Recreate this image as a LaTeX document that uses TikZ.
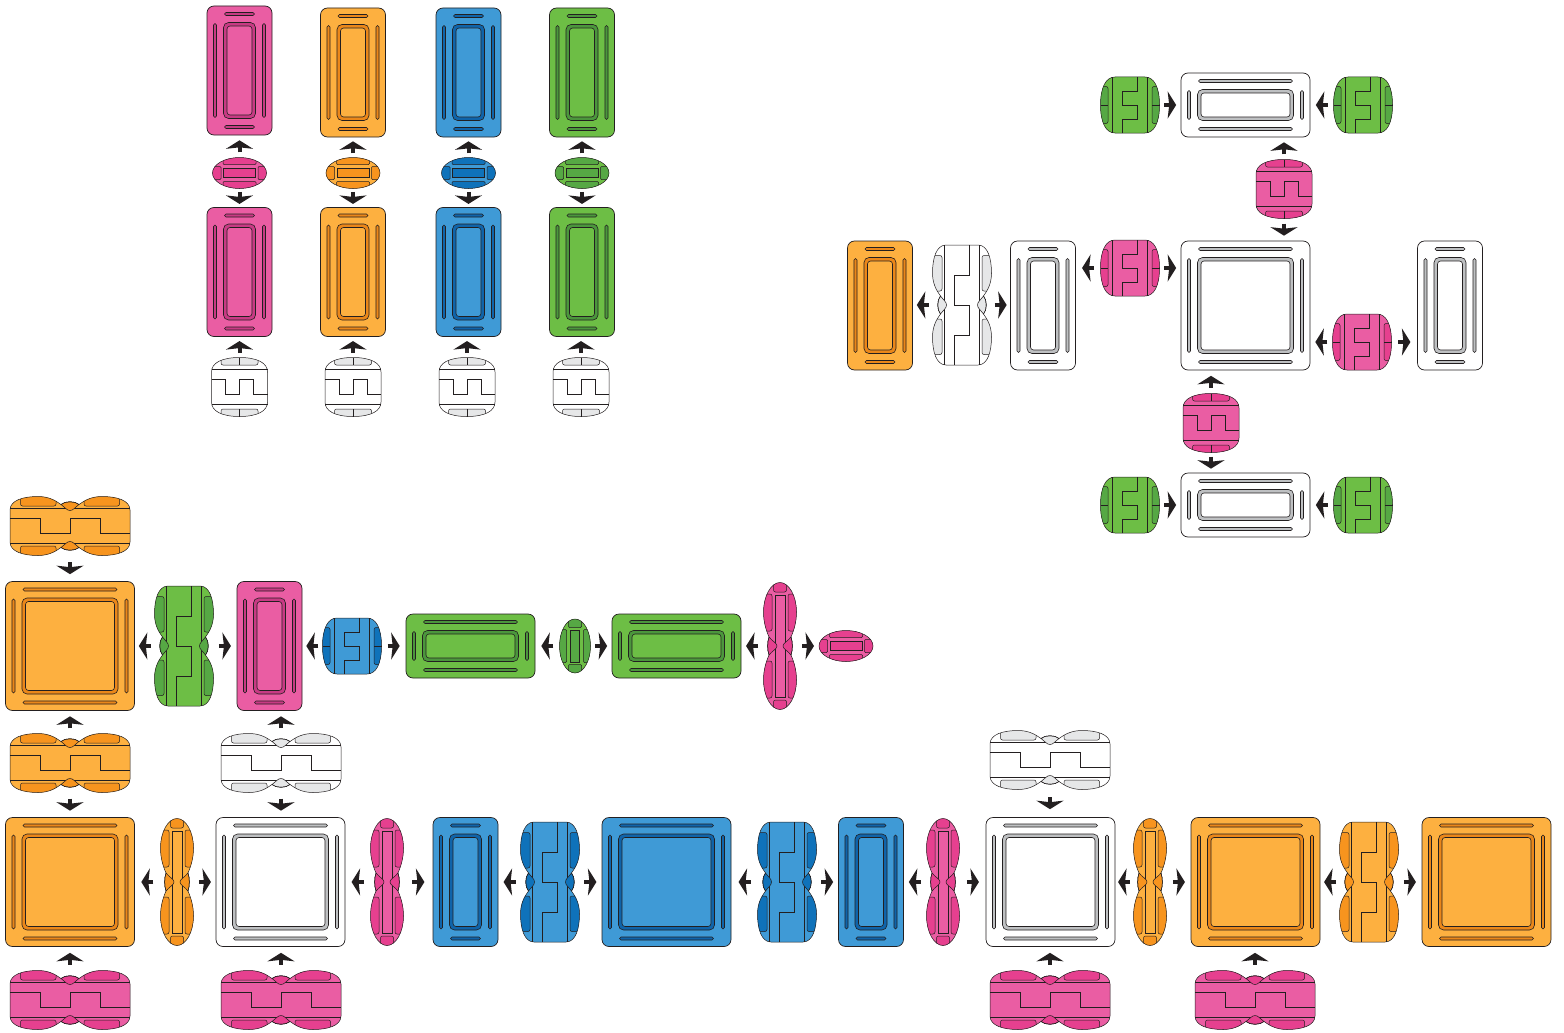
\documentclass[tikz,border=0pt]{standalone}
\usepackage{tikz}
\usetikzlibrary{arrows.meta,calc}
\definecolor{inkline}{RGB}{35,31,32}
\definecolor{pinkbase}{RGB}{234,93,163}
\definecolor{pinkdark}{RGB}{230,64,143}
\definecolor{pinkslot}{RGB}{200,58,132}
\definecolor{orangebase}{RGB}{253,176,64}
\definecolor{orangedark}{RGB}{247,148,30}
\definecolor{orangeslot}{RGB}{235,135,25}
\definecolor{bluebase}{RGB}{63,154,214}
\definecolor{bluedark}{RGB}{15,114,186}
\definecolor{blueslot}{RGB}{15,100,170}
\definecolor{greenbase}{RGB}{109,190,69}
\definecolor{greendark}{RGB}{86,168,68}
\definecolor{greenslot}{RGB}{75,150,60}
\definecolor{whitebase}{RGB}{255,255,255}
\definecolor{whitedark}{RGB}{230,231,232}
\definecolor{whiteslot}{RGB}{190,192,194}
\tikzset{
  plate/.style={draw=inkline, line width=0.7pt, rounded corners=7pt, inner sep=0pt},
  piecebox/.style={inner sep=0pt, draw=none},
  part/.style={draw=inkline, line width=0.5pt},
  ring/.style={draw=inkline, line width=0.6pt},
  arr/.style={line width=4pt, draw=inkline, -{Stealth[length=8.5pt,width=27pt,inset=1.5pt]},
    to path={($(\tikztostart)!.5!(\tikztotarget)!6pt!(\tikztostart)$) -- ($(\tikztostart)!.5!(\tikztotarget)!6pt!(\tikztotarget)$)}}}
\def\drumpath{(-28,-15) .. controls (-28,-24) and (-18,-29.5) .. (0,-29.5) .. controls (18,-29.5) and (28,-24) .. (28,-15) -- (28,15) .. controls (28,24) and (18,29.5) .. (0,29.5) .. controls (-18,29.5) and (-28,24) .. (-28,15) -- cycle}
\def\peanutpath{(-60,-16) .. controls (-60,-26) and (-46,-29.5) .. (-32,-29.5) .. controls (-22,-29.5) and (-15,-26) .. (-9,-21.5) .. controls (-5,-25.2) and (5,-25.2) .. (9,-21.5) .. controls (15,-26) and (22,-29.5) .. (32,-29.5) .. controls (46,-29.5) and (60,-26) .. (60,-16) -- (60,16) .. controls (60,26) and (46,29.5) .. (32,29.5) .. controls (22,29.5) and (15,26) .. (9,21.5) .. controls (5,25.2) and (-5,25.2) .. (-9,21.5) .. controls (-15,26) and (-22,29.5) .. (-32,29.5) .. controls (-46,29.5) and (-60,26) .. (-60,16) -- cycle}
\def\slimpath{(0,-63.5) .. controls (9,-63.5) and (16.5,-50) .. (16.5,-34) .. controls (16.5,-24) and (14,-16) .. (11,-9) .. controls (12.8,-4) and (12.8,4) .. (11,9) .. controls (14,16) and (16.5,24) .. (16.5,34) .. controls (16.5,50) and (9,63.5) .. (0,63.5) .. controls (-9,63.5) and (-16.5,50) .. (-16.5,34) .. controls (-16.5,24) and (-14,16) .. (-11,9) .. controls (-12.8,4) and (-12.8,-4) .. (-11,-9) .. controls (-14,-16) and (-16.5,-24) .. (-16.5,-34) .. controls (-16.5,-50) and (-9,-63.5) .. (0,-63.5) -- cycle}
\newcommand{\platetile}[6]{%
  \node[plate, minimum width=#4pt, minimum height=#5pt, fill=#6base] (#1) at (#2,#3) {};
  \begin{scope}[shift={(#2,#3)}]
    \pgfmathsetmacro\hw{#4/2}\pgfmathsetmacro\hh{#5/2}
    \draw[ring, fill=#6slot, rounded corners=1.5pt] (-\hw+17.5,-\hh+6.5) rectangle (\hw-17.5,-\hh+9.5);
    \draw[ring, fill=#6slot, rounded corners=1.5pt] (-\hw+17.5,\hh-9.5) rectangle (\hw-17.5,\hh-6.5);
    \draw[ring, fill=#6slot, rounded corners=1.5pt] (-\hw+6.5,-\hh+17.5) rectangle (-\hw+9.5,\hh-17.5);
    \draw[ring, fill=#6slot, rounded corners=1.5pt] (\hw-9.5,-\hh+17.5) rectangle (\hw-6.5,\hh-17.5);
    \draw[ring, fill=#6slot, rounded corners=5pt] (-\hw+16.5,-\hh+16.5) rectangle (\hw-16.5,\hh-16.5);
    \draw[ring, fill=#6base, rounded corners=3pt] (-\hw+20,-\hh+20) rectangle (\hw-20,\hh-20);
  \end{scope}}
\newcommand{\drumpiece}[5]{%
  \node[piecebox, minimum width={58*abs(cos(#5))+59*abs(sin(#5))}, minimum height={59*abs(cos(#5))+58*abs(sin(#5))}] (#1) at (#2,#3) {};
  \begin{scope}[shift={(#2,#3)}, rotate=#5]
    \fill[#4base] \drumpath;
    \begin{scope}
      \clip \drumpath;
      \draw[part, fill=#4dark, rounded corners=2pt] (-18.5,-33) rectangle (18.5,-22);
      \draw[part, fill=#4dark, rounded corners=2pt] (-18.5,22) rectangle (18.5,33);
    \end{scope}
    \draw[part] (0,-29.5) -- (0,-22) (0,22) -- (0,29.5);
    \draw[part] (-28,-17.5) -- (28,-17.5) (-28,17.5) -- (28,17.5);
    \draw[part] (-28,-7.5) -- (-14,-7.5) -- (-14,7.5) -- (0,7.5) -- (0,-7.5) -- (14,-7.5) -- (14,7.5) -- (28,7.5);
    \draw[part] \drumpath;
  \end{scope}}
\newcommand{\peanutpiece}[5]{%
  \node[piecebox, minimum width={120*abs(cos(#5))+58*abs(sin(#5))}, minimum height={58*abs(cos(#5))+120*abs(sin(#5))}] (#1) at (#2,#3) {};
  \begin{scope}[shift={(#2,#3)}, rotate=#5]
    \fill[#4base] \peanutpath;
    \begin{scope}
      \clip \peanutpath;
      \foreach \sx/\sy in {1/1,1/-1,-1/1,-1/-1}
        \draw[part, fill=#4dark, rounded corners=2pt, xscale=\sx, yscale=\sy] (14,-34) rectangle (49.5,-20);
    \end{scope}
    \draw[part] (-60,-17.3) -- (60,-17.3) (-60,17.3) -- (60,17.3);
    \foreach \sy in {1,-1}
      \draw[part, fill=#4dark, yscale=\sy] (-9,-21.5) .. controls (-5,-25.2) and (5,-25.2) .. (9,-21.5) .. controls (5,-18.5) and (3,-15.5) .. (0,-15.5) .. controls (-3,-15.5) and (-5,-18.5) .. (-9,-21.5) -- cycle;
    \draw[part] (-60,-7.5) -- (-30,-7.5) -- (-30,7.5) -- (0,7.5) -- (0,-7.5) -- (30,-7.5) -- (30,7.5) -- (60,7.5);
    \draw[part] \peanutpath;
  \end{scope}}
\newcommand{\slimpiece}[4]{%
  \node[piecebox, minimum width=34pt, minimum height=127pt] (#1) at (#2,#3) {};
  \begin{scope}[shift={(#2,#3)}]
    \fill[#4base] \slimpath;
    \begin{scope}
      \clip \slimpath;
      \foreach \sx/\sy in {1/1,1/-1,-1/1,-1/-1}
        \draw[part, fill=#4dark, rounded corners=2pt, xscale=\sx, yscale=\sy] (8,-52) rectangle (20,-15);
      \draw[part, fill=#4dark, rounded corners=2pt] (-6.5,-67) rectangle (6.5,-54);
      \draw[part, fill=#4dark, rounded corners=2pt] (-6.5,54) rectangle (6.5,67);
    \end{scope}
    \draw[part, fill=#4base] (-5,-51) rectangle (5,51);
    \foreach \sx in {1,-1}
      \draw[part, fill=#4dark, xscale=\sx] (11,-9) .. controls (12.8,-4) and (12.8,4) .. (11,9) .. controls (8,5) and (3,3) .. (3,0) .. controls (3,-3) and (8,-5) .. (11,-9) -- cycle;
    \draw[part] \slimpath;
  \end{scope}}
\newcommand{\ovalpiece}[5]{%
  \node[piecebox, minimum width={54*abs(cos(#5))+31*abs(sin(#5))}, minimum height={31*abs(cos(#5))+54*abs(sin(#5))}] (#1) at (#2,#3) {};
  \begin{scope}[shift={(#2,#3)}, rotate=#5]
    \fill[#4base] (0,0) ellipse (27 and 15.5);
    \begin{scope}
      \clip (0,0) ellipse (27 and 15.5);
      \draw[part, fill=#4dark, rounded corners=1pt] (-16.5,-18) rectangle (16.5,-8.5);
      \draw[part, fill=#4dark, rounded corners=1pt] (-16.5,8.5) rectangle (16.5,18);
      \draw[part, fill=#4dark, rounded corners=1pt] (-30,-6.5) rectangle (-18.5,6.5);
      \draw[part, fill=#4dark, rounded corners=1pt] (18.5,-6.5) rectangle (30,6.5);
    \end{scope}
    \draw[part, fill=#4dark] (-16,-4.7) rectangle (16,4.7);
    \draw[part] (0,0) ellipse (27 and 15.5);
  \end{scope}}
\begin{document}
\begin{tikzpicture}[x=1pt, y=-1pt]
\useasboundingbox (0,0) rectangle (1564,1033);

\platetile{ta}{239.5}{70.5}{65}{129}{pink}
\platetile{tb}{353}{72.5}{65}{129}{orange}
\platetile{tc}{468.5}{72.5}{65}{129}{blue}
\platetile{td}{582}{72.5}{65}{129}{green}
\platetile{ma}{239.5}{272}{65}{129}{pink}
\platetile{mb}{353}{272}{65}{129}{orange}
\platetile{mc}{468.5}{272}{65}{129}{blue}
\platetile{md}{582}{272}{65}{129}{green}
\ovalpiece{oa}{239.5}{173}{pink}{0}
\ovalpiece{ob}{353}{173}{orange}{0}
\ovalpiece{oc}{468.5}{173}{blue}{0}
\ovalpiece{od}{582}{173}{green}{0}
\drumpiece{da}{239.5}{387}{white}{0}
\drumpiece{db}{353}{387}{white}{0}
\drumpiece{dc}{467}{387}{white}{0}
\drumpiece{dd}{581}{387}{white}{0}
\draw[arr] (oa.north) to (oa.north |- ta.south);
\draw[arr] (ob.north) to (ob.north |- tb.south);
\draw[arr] (oc.north) to (oc.north |- tc.south);
\draw[arr] (od.north) to (od.north |- td.south);
\draw[arr] (oa.south) to (oa.south |- ma.north);
\draw[arr] (ob.south) to (ob.south |- mb.north);
\draw[arr] (oc.south) to (oc.south |- mc.north);
\draw[arr] (od.south) to (od.south |- md.north);
\draw[arr] (da.north) to (da.north |- ma.south);
\draw[arr] (db.north) to (db.north |- mb.south);
\draw[arr] (dc.north) to (dc.north |- mc.south);
\draw[arr] (dd.north) to (dd.north |- md.south);

\platetile{wa}{1245.5}{105}{129}{64}{white}
\platetile{wb}{1245.5}{305.5}{129}{129}{white}
\platetile{wc}{1043}{305.5}{65}{129}{white}
\platetile{wd}{1450}{305.5}{65}{129}{white}
\platetile{we}{1245.5}{505}{129}{64}{white}
\platetile{ya}{880}{305.5}{65}{129}{orange}
\drumpiece{ga}{1130}{105}{green}{90}
\drumpiece{gb}{1363}{105}{green}{90}
\drumpiece{gc}{1130}{505}{green}{90}
\drumpiece{gd}{1363}{505}{green}{90}
\drumpiece{ka}{1284}{189}{pink}{0}
\drumpiece{kb}{1130}{268}{pink}{90}
\drumpiece{kc}{1362}{342}{pink}{90}
\drumpiece{kd}{1211}{423}{pink}{0}
\peanutpiece{va}{962}{305}{white}{90}
\draw[arr] (ga.east) to (ga.east -| wa.west);
\draw[arr] (gb.west) to (gb.west -| wa.east);
\draw[arr] (gc.east) to (gc.east -| we.west);
\draw[arr] (gd.west) to (gd.west -| we.east);
\draw[arr] (ka.north) to (ka.north |- wa.south);
\draw[arr] (ka.south) to (ka.south |- wb.north);
\draw[arr] (kb.east) to (kb.east -| wb.west);
\draw[arr] (kb.west) to (kb.west -| wc.east);
\draw[arr] (kc.west) to (kc.west -| wb.east);
\draw[arr] (kc.east) to (kc.east -| wd.west);
\draw[arr] (kd.north) to (kd.north |- wb.south);
\draw[arr] (kd.south) to (kd.south |- we.north);
\draw[arr] (va.east) to (va.east -| wc.west);
\draw[arr] (va.west) to (va.west -| ya.east);

\platetile{ra}{70}{646}{129}{129}{orange}
\platetile{rb}{269.5}{646}{65}{129}{pink}
\platetile{rc}{470.5}{646}{129}{64}{green}
\platetile{rd}{676.5}{646}{129}{64}{green}
\peanutpiece{pa}{70}{526}{orange}{0}
\peanutpiece{pb}{184}{646}{green}{90}
\drumpiece{pc}{352}{646}{blue}{90}
\ovalpiece{pd}{575}{646}{green}{90}
\slimpiece{pe}{780}{646}{pink}
\ovalpiece{pf}{846}{646}{pink}{0}
\draw[arr] (pa.south) to (pa.south |- ra.north);
\draw[arr] (pb.west) to (pb.west -| ra.east);
\draw[arr] (pb.east) to (pb.east -| rb.west);
\draw[arr] (pc.west) to (pc.west -| rb.east);
\draw[arr] (pc.east) to (pc.east -| rc.west);
\draw[arr] (pd.west) to (pd.west -| rc.east);
\draw[arr] (pd.east) to (pd.east -| rd.west);
\draw[arr] (pe.west) to (pe.west -| rd.east);
\draw[arr] (pe.east) to (pe.east -| pf.west);

\platetile{sa}{70}{882}{129}{129}{orange}
\platetile{sb}{280.5}{882}{129}{129}{white}
\platetile{sc}{465.5}{882}{65}{129}{blue}
\platetile{sd}{666.5}{882}{129}{129}{blue}
\platetile{se}{871}{882}{65}{129}{blue}
\platetile{sf}{1050.5}{882}{129}{129}{white}
\platetile{sg}{1255.5}{882}{129}{129}{orange}
\platetile{sh}{1486.5}{882}{129}{129}{orange}
\peanutpiece{qa}{70}{763}{orange}{0}
\peanutpiece{qb}{281}{763}{white}{0}
\peanutpiece{qc}{1050}{760}{white}{0}
\peanutpiece{qd}{70}{1000}{pink}{0}
\peanutpiece{qe}{281}{1000}{pink}{0}
\peanutpiece{qf}{1050}{1000}{pink}{0}
\peanutpiece{qg}{1255}{1000}{pink}{0}
\slimpiece{la}{177}{882}{orange}
\slimpiece{lb}{387}{882}{pink}
\peanutpiece{lc}{550}{882}{blue}{90}
\peanutpiece{ld}{787}{882}{blue}{90}
\slimpiece{le}{943}{882}{pink}
\slimpiece{lf}{1150}{882}{orange}
\peanutpiece{lg}{1369}{882}{orange}{90}
\draw[arr] (qa.north) to (qa.north |- ra.south);
\draw[arr] (qa.south) to (qa.south |- sa.north);
\draw[arr] (qb.north) to (qb.north |- rb.south);
\draw[arr] (qb.south) to (qb.south |- sb.north);
\draw[arr] (qc.south) to (qc.south |- sf.north);
\draw[arr] (qd.north) to (qd.north |- sa.south);
\draw[arr] (qe.north) to (qe.north |- sb.south);
\draw[arr] (qf.north) to (qf.north |- sf.south);
\draw[arr] (qg.north) to (qg.north |- sg.south);
\draw[arr] (la.west) to (la.west -| sa.east);
\draw[arr] (la.east) to (la.east -| sb.west);
\draw[arr] (lb.west) to (lb.west -| sb.east);
\draw[arr] (lb.east) to (lb.east -| sc.west);
\draw[arr] (lc.west) to (lc.west -| sc.east);
\draw[arr] (lc.east) to (lc.east -| sd.west);
\draw[arr] (ld.west) to (ld.west -| sd.east);
\draw[arr] (ld.east) to (ld.east -| se.west);
\draw[arr] (le.west) to (le.west -| se.east);
\draw[arr] (le.east) to (le.east -| sf.west);
\draw[arr] (lf.west) to (lf.west -| sf.east);
\draw[arr] (lf.east) to (lf.east -| sg.west);
\draw[arr] (lg.west) to (lg.west -| sg.east);
\draw[arr] (lg.east) to (lg.east -| sh.west);
\end{tikzpicture}
\end{document}
